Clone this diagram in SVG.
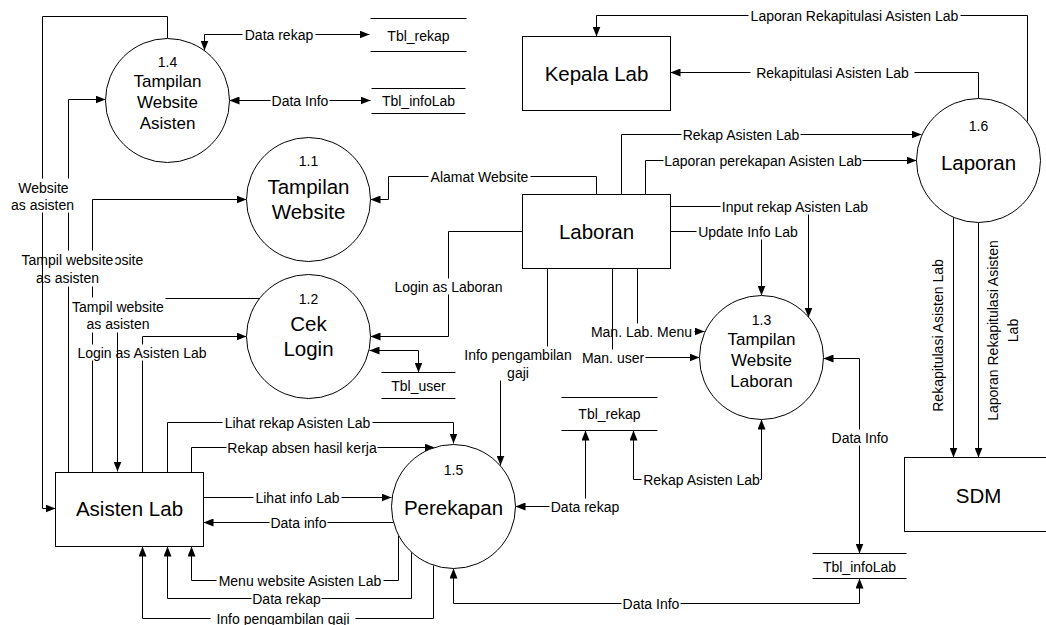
<svg xmlns="http://www.w3.org/2000/svg" width="1046" height="625" viewBox="0 0 1046 625">
<defs>
<style>
.ln{fill:none;stroke:#000;stroke-width:1}
.a{marker-end:url(#ah)}
.b{marker-start:url(#ah);marker-end:url(#ah)}
.shape{fill:#fff;stroke:#000;stroke-width:1}
.t{font-family:"Liberation Sans",Arial,sans-serif;font-size:14px;text-anchor:middle;fill:#000}
.big{font-size:20.5px}
.mid{font-size:17px}
.bg{fill:#fff}
</style>
<marker id="ah" viewBox="0 0 10 8" refX="10" refY="4" markerWidth="10" markerHeight="8" markerUnits="userSpaceOnUse" orient="auto-start-reverse"><path d="M0,0L10,4L0,8z" fill="#000"/></marker>
</defs>
<rect width="1046" height="625" fill="#fff"/>

<g id="connectors" transform="translate(0.5,0.5)">
<path class="ln b" d="M204,50V34H369"/>
<path class="ln b" d="M229,100H370"/>
<path class="ln a" d="M167,38V16H42V508H55"/>
<path class="ln a" d="M68,472V99H105"/>
<path class="ln a" d="M92,472V199H246"/>
<path class="ln a" d="M259,298H117V471"/>
<path class="ln a" d="M142,472V336H246"/>
<path class="ln a" d="M167,472V422H453V443"/>
<path class="ln a" d="M191,472V447H434"/>
<path class="ln a" d="M203,497H391"/>
<path class="ln a" d="M393,522H203"/>
<path class="ln a" d="M398,535V580H191V546"/>
<path class="ln a" d="M411,552V598H167V546"/>
<path class="ln a" d="M433,565V618H142V546"/>
<path class="ln b" d="M859,578V603H453V568"/>
<path class="ln b" d="M823,358H859V553"/>
<path class="ln b" d="M761,419V479H633V430"/>
<path class="ln b" d="M515,506H585V430"/>
<path class="ln a" d="M547,268V364H500V465"/>
<path class="ln a" d="M637,268V331H704"/>
<path class="ln a" d="M612,268V357H699"/>
<path class="ln a" d="M670,231H761V295"/>
<path class="ln a" d="M670,206H808V317"/>
<path class="ln a" d="M522,231H448V336H370"/>
<path class="ln b" d="M369,350H418V372"/>
<path class="ln a" d="M596,194V176H388V199H370"/>
<path class="ln a" d="M621,194V134H921"/>
<path class="ln a" d="M645,194V160H916"/>
<path class="ln a" d="M1027,121V15H596V36"/>
<path class="ln a" d="M978,98V72H670"/>
<path class="ln a" d="M953,217V457"/>
<path class="ln a" d="M978,222V457"/>

<g id="labels">
<rect class="bg" x="242" y="26" width="73" height="16"/><text class="t" x="278.5" y="39">Data rekap</text>
<rect class="bg" x="270" y="92" width="59" height="16"/><text class="t" x="299.5" y="105">Data Info</text>
<rect class="bg" x="428" y="168" width="102" height="16"/><text class="t" x="479" y="181">Alamat Website</text>
<rect class="bg" x="748" y="7" width="212" height="16"/><text class="t" x="854" y="20">Laporan Rekapitulasi Asisten Lab</text>
<rect class="bg" x="750" y="64" width="164" height="16"/><text class="t" x="832" y="77">Rekapitulasi Asisten Lab</text>
<rect class="bg" x="681" y="126" width="119" height="16"/><text class="t" x="740.5" y="139">Rekap Asisten Lab</text>
<rect class="bg" x="663" y="152" width="199" height="16"/><text class="t" x="762.5" y="165">Laporan perekapan Asisten Lab</text>
<rect class="bg" x="720" y="198" width="149" height="16"/><text class="t" x="794.5" y="211">Input rekap Asisten Lab</text>
<rect class="bg" x="696" y="223" width="103" height="16"/><text class="t" x="747.5" y="236">Update Info Lab</text>
<rect class="bg" x="393" y="278" width="110" height="16"/><text class="t" x="448" y="291">Login as Laboran</text>
<rect class="bg" x="588" y="323" width="106" height="16"/><text class="t" x="641" y="336">Man. Lab. Menu</text>
<rect class="bg" x="580" y="349" width="65" height="16"/><text class="t" x="612.5" y="362">Man. user</text>
<rect class="bg" x="463" y="346" width="109" height="34"/><text class="t" x="517.5" y="359">Info pengambilan</text><text class="t" x="517.5" y="377">gaji</text>
<rect class="bg" x="9" y="178" width="66" height="34"/><text class="t" x="43" y="192">Website</text><text class="t" x="42" y="209">as asisten</text>
<rect class="bg" x="20" y="250" width="122" height="36"/><text class="t" x="67" y="264">Tampil website</text><text class="t" x="67" y="282">as asisten</text>
<text class="t" x="114" y="264" style="text-anchor:start">ɔsite</text>
<rect class="bg" x="70" y="297" width="95" height="35"/><text class="t" x="117.5" y="311">Tampil website</text><text class="t" x="117.5" y="328">as asisten</text>
<rect class="bg" x="76" y="344" width="131" height="16"/><text class="t" x="141.5" y="357">Login as Asisten Lab</text>
<rect class="bg" x="222" y="414" width="150" height="16"/><text class="t" x="297" y="427">Lihat rekap Asisten Lab</text>
<rect class="bg" x="226" y="439" width="151" height="16"/><text class="t" x="301.5" y="452">Rekap absen hasil kerja</text>
<rect class="bg" x="253" y="489" width="88" height="16"/><text class="t" x="297" y="502">Lihat info Lab</text>
<rect class="bg" x="269" y="514" width="58" height="16"/><text class="t" x="298" y="527">Data info</text>
<rect class="bg" x="216" y="572" width="167" height="16"/><text class="t" x="299.5" y="585">Menu website Asisten Lab</text>
<rect class="bg" x="251" y="590" width="70" height="16"/><text class="t" x="286" y="603">Data rekap</text>
<rect class="bg" x="210" y="610" width="145" height="16"/><text class="t" x="282.5" y="623">Info pengambilan gaji</text>
<rect class="bg" x="549" y="498" width="71" height="16"/><text class="t" x="584.5" y="511">Data rekap</text>
<rect class="bg" x="641" y="471" width="118.5" height="16"/><text class="t" x="701" y="484">Rekap Asisten Lab</text>
<rect class="bg" x="830" y="429" width="59" height="16"/><text class="t" x="859.5" y="442">Data Info</text>
<rect class="bg" x="621" y="595" width="59" height="16"/><text class="t" x="650.5" y="608">Data Info</text>
<text class="t" transform="translate(942,335) rotate(-90)">Rekapitulasi Asisten Lab</text>
<text class="t" transform="translate(997,330) rotate(-90)">Laporan Rekapitulasi Asisten</text>
<text class="t" transform="translate(1017,330) rotate(-90)">Lab</text>
</g>
<path class="ln" d="M42,246V292M117,338V366M612,321V341"/>
</g>

<g id="kepala-lab" transform="translate(0.5,0.5)"><rect class="shape" x="522" y="36" width="148" height="74"/><text class="t big" x="596" y="80">Kepala Lab</text></g>
<g id="laboran" transform="translate(0.5,0.5)"><rect class="shape" x="522" y="194" width="148" height="74"/><text class="t big" x="596" y="238">Laboran</text></g>
<g id="asisten-lab" transform="translate(0.5,0.5)"><rect class="shape" x="55" y="472" width="148" height="74"/><text class="t big" x="129" y="515">Asisten Lab</text></g>
<g id="sdm" transform="translate(0.5,0.5)"><rect class="shape" x="904" y="457" width="148" height="74"/><text class="t big" x="978" y="502">SDM</text></g>

<g id="p1-4" transform="translate(0.5,0.5)"><circle class="shape" cx="167" cy="100" r="62"/><text class="t" x="167" y="66">1.4</text><text class="t mid" x="167" y="86">Tampilan</text><text class="t mid" x="167" y="107">Website</text><text class="t mid" x="167" y="128">Asisten</text></g>
<g id="p1-1" transform="translate(0.5,0.5)"><circle class="shape" cx="308" cy="199" r="62"/><text class="t" x="308" y="165">1.1</text><text class="t big" x="308" y="193">Tampilan</text><text class="t big" x="308" y="218">Website</text></g>
<g id="p1-2" transform="translate(0.5,0.5)"><circle class="shape" cx="308" cy="336" r="62"/><text class="t" x="308" y="303">1.2</text><text class="t big" x="308" y="330">Cek</text><text class="t big" x="308" y="355">Login</text></g>
<g id="p1-3" transform="translate(0.5,0.5)"><circle class="shape" cx="761" cy="357" r="62"/><text class="t" x="761" y="324">1.3</text><text class="t mid" x="761" y="344">Tampilan</text><text class="t mid" x="761" y="365">Website</text><text class="t mid" x="761" y="386">Laboran</text></g>
<g id="p1-5" transform="translate(0.5,0.5)"><circle class="shape" cx="453" cy="506" r="62"/><text class="t" x="453" y="474">1.5</text><text class="t big" x="453" y="514">Perekapan</text></g>
<g id="p1-6" transform="translate(0.5,0.5)"><circle class="shape" cx="978" cy="160" r="62"/><text class="t" x="978" y="130">1.6</text><text class="t big" x="978" y="169">Laporan</text></g>

<g id="tbl-rekap-top" transform="translate(0.5,0.5)"><path class="ln" d="M370,18H466M370,51H466"/><text class="t" x="418" y="40">Tbl_rekap</text></g>
<g id="tbl-infolab-top" transform="translate(0.5,0.5)"><path class="ln" d="M371,88H465M371,113H465"/><text class="t" x="418" y="105">Tbl_infoLab</text></g>
<g id="tbl-user" transform="translate(0.5,0.5)"><path class="ln" d="M381,372H455M381,398H455"/><text class="t" x="418" y="390">Tbl_user</text></g>
<g id="tbl-rekap-bottom" transform="translate(0.5,0.5)"><path class="ln" d="M561,397H657M561,430H657"/><text class="t" x="609" y="418">Tbl_rekap</text></g>
<g id="tbl-infolab-bottom" transform="translate(0.5,0.5)"><path class="ln" d="M812,553H906M812,578H906"/><text class="t" x="859" y="571">Tbl_infoLab</text></g>
</svg>
